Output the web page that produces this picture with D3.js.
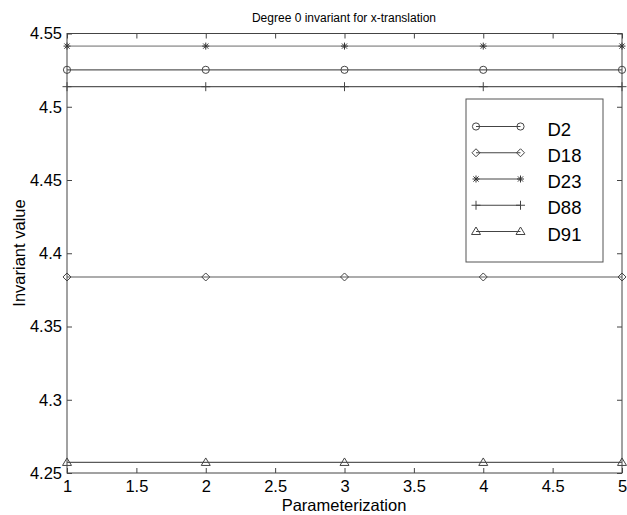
<!DOCTYPE html>
<html><head><meta charset="utf-8">
<script src="https://cdn.jsdelivr.net/npm/d3@7"></script>
<style>body{margin:0;background:#fff}svg{display:block}</style>
</head><body>
<script>
const xs = [1, 2, 3, 4, 5];
const seriesNames = ["D2", "D18", "D23", "D88", "D91"];
const valsD2  = [4.5252, 4.5252, 4.5252, 4.5252, 4.5252];
const valsD18 = [4.3838, 4.3838, 4.3838, 4.3838, 4.3838];
const valsD23 = [4.5414, 4.5414, 4.5414, 4.5414, 4.5414];
const valsD88 = [4.5137, 4.5137, 4.5137, 4.5137, 4.5137];
const valsD91 = [4.2572, 4.2572, 4.2572, 4.2572, 4.2572];
const xTicks = [1, 1.5, 2, 2.5, 3, 3.5, 4, 4.5, 5];
const yTicks = [4.25, 4.3, 4.35, 4.4, 4.45, 4.5, 4.55];
const markers = ["circle", "diamond", "star", "plus", "triangle"];
const lineColors = ["#5a5a5a", "#5a5a5a", "#aaaaaa", "#5a5a5a", "#5a5a5a"];

const W = 627, H = 515;
const m = {l: 67, r: 5, t: 33.5, b: 42};
const svg = d3.select("body").append("svg").attr("width", W).attr("height", H);
const x = d3.scaleLinear().domain([1, 5]).range([m.l, W - m.r]);
const y = d3.scaleLinear().domain([4.25, 4.55]).range([H - m.b, m.t]);
const font = "Arial, 'Liberation Sans', sans-serif";

const allVals = [valsD2, valsD18, valsD23, valsD88, valsD91];
function drawMarker(g, type, cx, cy) {
  const s = "#444";
  if (type === "circle") g.append("circle").attr("cx", cx).attr("cy", cy).attr("r", 3.6).attr("fill", "none").attr("stroke", s);
  else if (type === "diamond") g.append("path").attr("d", `M${cx},${cy-4}L${cx+4},${cy}L${cx},${cy+4}L${cx-4},${cy}Z`).attr("fill", "none").attr("stroke", s);
  else if (type === "star") {
    g.append("path").attr("d", `M${cx-3.5},${cy}L${cx+3.5},${cy}M${cx},${cy-3.5}L${cx},${cy+3.5}M${cx-2.6},${cy-2.6}L${cx+2.6},${cy+2.6}M${cx-2.6},${cy+2.6}L${cx+2.6},${cy-2.6}`).attr("stroke", "#333").attr("stroke-width", 1);
  } else if (type === "plus") {
    g.append("path").attr("d", `M${cx-4.5},${cy}L${cx+4.5},${cy}M${cx},${cy-4.5}L${cx},${cy+4.5}`).attr("stroke", s);
  } else if (type === "triangle") {
    g.append("path").attr("d", `M${cx},${cy-4.5}L${cx+4.5},${cy+3}L${cx-4.5},${cy+3}Z`).attr("fill", "none").attr("stroke", s);
  }
}

const axColor = "#444";
svg.append("rect").attr("x", m.l).attr("y", m.t).attr("width", W - m.r - m.l).attr("height", H - m.b - m.t)
  .attr("fill", "none").attr("stroke", axColor).attr("stroke-width", 1);

const line = d3.line().x((d, i) => x(xs[i])).y(d => y(d));
allVals.forEach((vals, k) => {
  svg.append("path").datum(vals).attr("d", line).attr("fill", "none")
    .attr("stroke", lineColors[k]).attr("stroke-width", k === 2 ? 1.8 : 1.2);
  const g = svg.append("g");
  vals.forEach((v, i) => drawMarker(g, markers[k], x(xs[i]), y(v)));
});

const tl = 5;
const xAxisB = svg.append("g").attr("transform", `translate(0,${H - m.b})`)
  .call(d3.axisBottom(x).tickValues(xTicks).tickSize(-tl).tickPadding(7.5).tickFormat(d3.format("")));
const xAxisT = svg.append("g").attr("transform", `translate(0,${m.t})`)
  .call(d3.axisTop(x).tickValues(xTicks).tickSize(-tl).tickFormat(""));
const yAxisL = svg.append("g").attr("transform", `translate(${m.l},0)`)
  .call(d3.axisLeft(y).tickValues(yTicks).tickSize(-tl).tickPadding(5).tickFormat(d3.format("")));
const yAxisR = svg.append("g").attr("transform", `translate(${W - m.r},0)`)
  .call(d3.axisRight(y).tickValues(yTicks).tickSize(-tl).tickFormat(""));
[xAxisB, xAxisT, yAxisL, yAxisR].forEach(a => {
  a.select(".domain").remove();
  a.selectAll(".tick line").attr("stroke", axColor);
  a.selectAll("text").attr("font-family", font).attr("font-size", 16.5).attr("fill", "#000");
});

svg.append("text").attr("x", 344).attr("y", 21.5).attr("text-anchor", "middle")
  .attr("font-family", font).attr("font-size", 12).text("Degree 0 invariant for x-translation");
svg.append("text").attr("x", 344).attr("y", 511).attr("text-anchor", "middle")
  .attr("font-family", font).attr("font-size", 16.5).text("Parameterization");
svg.append("text").attr("transform", `translate(24.5,253) rotate(-90)`).attr("text-anchor", "middle")
  .attr("font-family", font).attr("font-size", 16.5).text("Invariant value");

const lg = svg.append("g");
lg.append("rect").attr("x", 466).attr("y", 99).attr("width", 137).attr("height", 163)
  .attr("fill", "#fff").attr("stroke", "#555");
const ly = d3.scalePoint().domain(seriesNames).range([126.5, 231.5]);
seriesNames.forEach((n, k) => {
  const yy = ly(n);
  lg.append("line").attr("x1", 476).attr("x2", 520.5).attr("y1", yy).attr("y2", yy).attr("stroke", "#444");
  drawMarker(lg, markers[k], 476, yy);
  drawMarker(lg, markers[k], 520.5, yy);
  lg.append("text").attr("x", 547.5).attr("y", yy + 9).attr("font-family", font).attr("font-size", 18.5).text(n);
});
</script>
</body></html>
